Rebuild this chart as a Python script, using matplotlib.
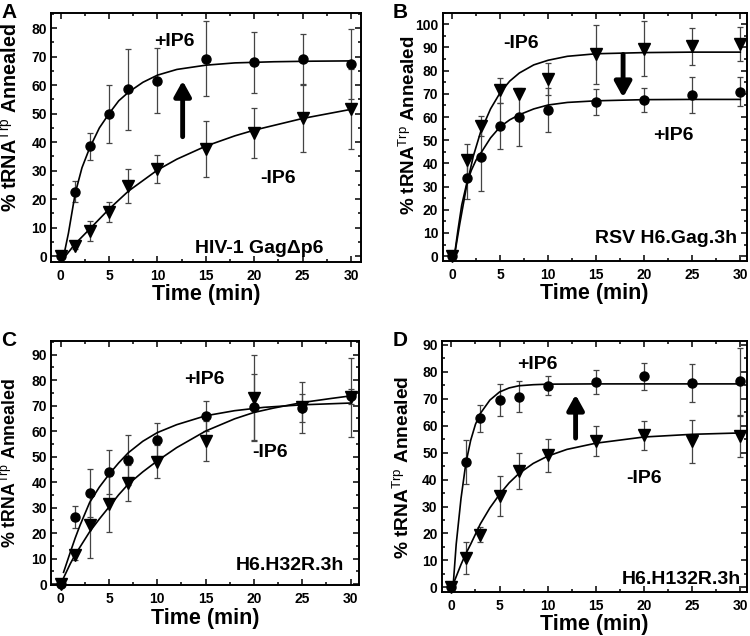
import numpy as np
import matplotlib
matplotlib.use('Agg')
import matplotlib.pyplot as plt
from matplotlib.ticker import MultipleLocator

plt.rcParams['font.family'] = ['Liberation Sans', 'DejaVu Sans']
plt.rcParams['mathtext.fontset'] = 'custom'
plt.rcParams['mathtext.rm'] = 'Liberation Sans:weight=normal'

# tiempos de muestreo (min)
t = [0, 1.5, 3, 5, 7, 10, 15, 20, 25, 30]

# Panel A - HIV-1 GagΔp6
a_plus = [0, 22.5, 38.5, 50, 58.5, 61.5, 69.3, 68, 69, 67.5]
a_plus_err = [0, 3.7, 4.8, 10.2, 14.3, 11.4, 13.2, 10.8, 9, 12.3]
a_minus = [0, 3.5, 8.7, 15.5, 24.5, 30.5, 37.5, 43.2, 48.5, 51.7]
a_minus_err = [0, 1, 3.5, 3.5, 6, 5, 9.8, 8.8, 12, 14]
a_fit_plus_t = [0.25, 0.8, 1.5, 2.2, 3, 4, 5, 6, 7, 8.5, 10, 12, 15, 18, 22, 26, 30]
a_fit_plus_y = [-1, 8, 22, 31, 38, 45, 50, 54.5, 57.5, 61, 63.5, 65.5, 67, 67.8, 68.2, 68.4, 68.5]
a_fit_minus_t = [0.3, 1.5, 3, 5, 7, 10, 12, 15, 18, 20, 25, 30]
a_fit_minus_y = [-0.8, 4.3, 9.5, 16.5, 22.8, 30.2, 34, 38.6, 42.2, 44.2, 48.3, 51.5]

# Panel B - RSV H6.Gag.3h
b_plus = [0, 33.5, 42.9, 56.2, 60.1, 63, 66.5, 67.3, 69.5, 71]
b_plus_err = [0, 9, 15, 10, 12.5, 9.5, 5.5, 5.3, 7.7, 6.3]
b_minus = [0, 41.4, 56.2, 71.6, 69.8, 76.3, 87, 89.5, 90.5, 91.5]
b_minus_err = [0, 6.8, 4.2, 5.4, 0, 7, 12.7, 11.8, 8, 7.5]
b_fit_plus_t = [0.2, 0.6, 1, 1.5, 2, 2.5, 3, 4, 5, 6, 7, 8.5, 10, 12, 15, 20, 25, 30]
b_fit_plus_y = [-1, 11, 22, 31, 37, 41.5, 44.5, 51, 55.8, 58.8, 61, 63.5, 65.2, 66.3, 67, 67.5, 67.6, 67.6]
b_fit_minus_t = [0.2, 0.8, 1.5, 2.2, 3, 4, 5, 6, 7, 8.5, 10, 12, 15, 20, 25, 30]
b_fit_minus_y = [-1, 14, 30, 43, 54, 63.5, 70.5, 75.5, 79, 82.5, 84.5, 86.2, 87.3, 87.8, 88, 88]

# Panel C - H6.H32R.3h
c_plus = [0, 26.4, 35.6, 44, 48.5, 56.6, 65.9, 69.4, 69.1, 73.7]
c_plus_err = [0, 4.3, 9.4, 8.6, 9.8, 6.5, 5.8, 13, 5.5, 3]
c_minus = [0, 11.5, 23.1, 31.3, 39.5, 48, 56.1, 73, 69.4, 73.3]
c_minus_err = [0, 2, 13, 11, 7, 6.5, 8, 17, 10, 15.5]
c_fit_plus_t = [0.3, 1, 1.5, 2, 3, 4, 5, 6, 7, 8.5, 10, 12, 15, 18, 21, 25, 30]
c_fit_plus_y = [4.6, 12.5, 18, 23, 32, 38, 43, 47.5, 51.5, 56, 59.4, 62.5, 66, 68, 69.3, 70.3, 71]
c_fit_minus_t = [0, 1, 1.5, 2, 3, 4, 5, 6, 7, 8.5, 10, 12, 15, 18, 20, 22, 25, 28, 30]
c_fit_minus_y = [0, 8, 11.5, 14.5, 20.5, 25.5, 30.2, 35, 39.2, 44, 48.3, 53.5, 60, 64.8, 67.3, 69, 71.2, 72.8, 73.8]

# Panel D - H6.H132R.3h
d_plus = [0, 46.4, 62.8, 69.6, 70.8, 74.9, 76.1, 78.3, 75.8, 76.4]
d_plus_err = [0, 8.2, 5, 6, 5.7, 3.6, 4.5, 5, 7, 12.4]
d_minus = [0, 11, 19.6, 33.8, 43.2, 49, 54.3, 56.4, 54.2, 56]
d_minus_err = [0, 6, 2.8, 7.4, 6.7, 6, 5.5, 5.4, 8, 7.5]
d_fit_plus_t = [0.15, 0.5, 1, 1.5, 2, 2.5, 3, 4, 5, 6, 7, 8.5, 10, 15, 20, 30]
d_fit_plus_y = [-1, 16, 33, 46, 54.5, 60.5, 64.5, 69.5, 72.5, 74, 74.8, 75.2, 75.4, 75.5, 75.5, 75.5]
d_fit_minus_t = [0, 0.5, 1, 1.5, 2, 3, 4, 5, 6, 7, 8.5, 10, 12, 15, 20, 25, 30]
d_fit_minus_y = [-0.5, 4, 8.5, 12.5, 16, 23.5, 29.5, 34.5, 38.8, 42.2, 46, 48.7, 51.2, 53.5, 55.8, 56.8, 57.3]

paneles = [
    dict(letra='A', pos=[0.068, 0.588, 0.413, 0.3915], xlim=(-1, 31), ylim=(-2.1, 85.3), ymax=80,
         plus=a_plus, plus_err=a_plus_err, minus=a_minus, minus_err=a_minus_err,
         fp=(a_fit_plus_t, a_fit_plus_y), fm=(a_fit_minus_t, a_fit_minus_y),
         tplus=(11.7, 75.2), tminus=(22.5, 27.3), nombre='HIV-1 GagΔp6', tnombre=(20.5, 2.7),
         flecha=(12.6, 41.9, 61.5), ylab=(14.2, -0.097, 0.58)),
    dict(letra='B', pos=[0.590, 0.590, 0.406, 0.390], xlim=(-1, 30.7), ylim=(-2, 105), ymax=100,
         plus=b_plus, plus_err=b_plus_err, minus=b_minus, minus_err=b_minus_err,
         fp=(b_fit_plus_t, b_fit_plus_y), fm=(b_fit_minus_t, b_fit_minus_y),
         tplus=(23.0, 52.2), tminus=(7.2, 91.8), nombre='RSV H6.Gag.3h', tnombre=(22.3, 7.6),
         flecha=(17.8, 87, 68.5), ylab=(13.5, -0.078, 0.545)),
    dict(letra='C', pos=[0.068, 0.0797, 0.411, 0.3836], xlim=(-1, 30.9), ylim=(-0.5, 95.2), ymax=90,
         plus=c_plus, plus_err=c_plus_err, minus=c_minus, minus_err=c_minus_err,
         fp=(c_fit_plus_t, c_fit_plus_y), fm=(c_fit_minus_t, c_fit_minus_y),
         tplus=(14.9, 80.2), tminus=(21.7, 51.5), nombre='H6.H32R.3h', tnombre=(23.7, 7.2),
         flecha=None, ylab=(12.8, -0.1, 0.5)),
    dict(letra='D', pos=[0.589, 0.0692, 0.407, 0.395], xlim=(-1, 30.7), ylim=(-1.7, 91.5), ymax=90,
         plus=d_plus, plus_err=d_plus_err, minus=d_minus, minus_err=d_minus_err,
         fp=(d_fit_plus_t, d_fit_plus_y), fm=(d_fit_minus_t, d_fit_minus_y),
         tplus=(8.95, 82.6), tminus=(20.05, 40.5), nombre='H6.H132R.3h', tnombre=(23.9, 2.8),
         flecha=(12.9, 55.4, 71.5), ylab=(13.8, -0.095, 0.495)),
]

fig = plt.figure(figsize=(7.5, 6.36), dpi=100)

for p in paneles:
    ax = fig.add_axes(p['pos'])
    # curvas de ajuste
    ax.plot(p['fp'][0], p['fp'][1], color='black', lw=1.2, zorder=2)
    ax.plot(p['fm'][0], p['fm'][1], color='black', lw=1.2, zorder=2)
    # barras de error
    ax.errorbar(t, p['plus'], yerr=p['plus_err'], fmt='none', ecolor='#444444',
                elinewidth=0.9, capsize=2.5, capthick=0.9, zorder=1)
    ax.errorbar(t, p['minus'], yerr=p['minus_err'], fmt='none', ecolor='#444444',
                elinewidth=0.9, capsize=2.5, capthick=0.9, zorder=1)
    # puntos
    ax.plot(t, p['plus'], 'o', color='black', ms=6.5, zorder=3, clip_on=False)
    ax.plot(t, p['minus'], 'v', color='black', ms=8, zorder=3, clip_on=False)

    ax.set_xlim(p['xlim'])
    ax.set_ylim(p['ylim'])
    ax.set_xticks(range(0, 31, 5))
    ax.set_yticks(range(0, p['ymax'] + 1, 10))
    ax.xaxis.set_minor_locator(MultipleLocator(2.5))
    ax.yaxis.set_minor_locator(MultipleLocator(5))
    ax.tick_params(which='both', direction='in', top=True, right=True, width=1.1)
    ax.tick_params(which='major', length=4, labelsize=10, pad=3)
    ax.tick_params(axis='x', which='major', pad=5)
    ax.tick_params(which='minor', length=2.5)
    for lab in ax.get_xticklabels() + ax.get_yticklabels():
        lab.set_fontweight('bold')
    for s in ax.spines.values():
        s.set_linewidth(1.4)

    ax.set_xlabel('Time (min)', fontsize=15.5, fontweight='bold', labelpad=1)
    ax.set_ylabel(r'% tRNA$^{\mathrm{Trp}}$ Annealed', fontsize=p['ylab'][0], fontweight='bold')
    ax.yaxis.set_label_coords(p['ylab'][1], p['ylab'][2])

    ax.text(p['tplus'][0], p['tplus'][1], '+IP6', fontsize=14, fontweight='bold',
            ha='center', va='center')
    ax.text(p['tminus'][0], p['tminus'][1], '-IP6', fontsize=14, fontweight='bold',
            ha='center', va='center')
    ax.text(p['tnombre'][0], p['tnombre'][1], p['nombre'], fontsize=14, fontweight='bold',
            ha='center', va='center')

    if p['flecha'] is not None:
        x, y0, y1 = p['flecha']
        ax.annotate('', xy=(x, y1), xytext=(x, y0),
                    arrowprops=dict(arrowstyle='-|>,head_length=0.9,head_width=0.5',
                                    lw=3.5, color='black', shrinkA=0, shrinkB=0))

    bb = ax.get_position()
    fig.text(bb.x0 - 0.066, bb.y1 + 0.001, p['letra'], fontsize=15, fontweight='bold',
             ha='left', va='center')

fig.savefig('out.png', dpi=100)
